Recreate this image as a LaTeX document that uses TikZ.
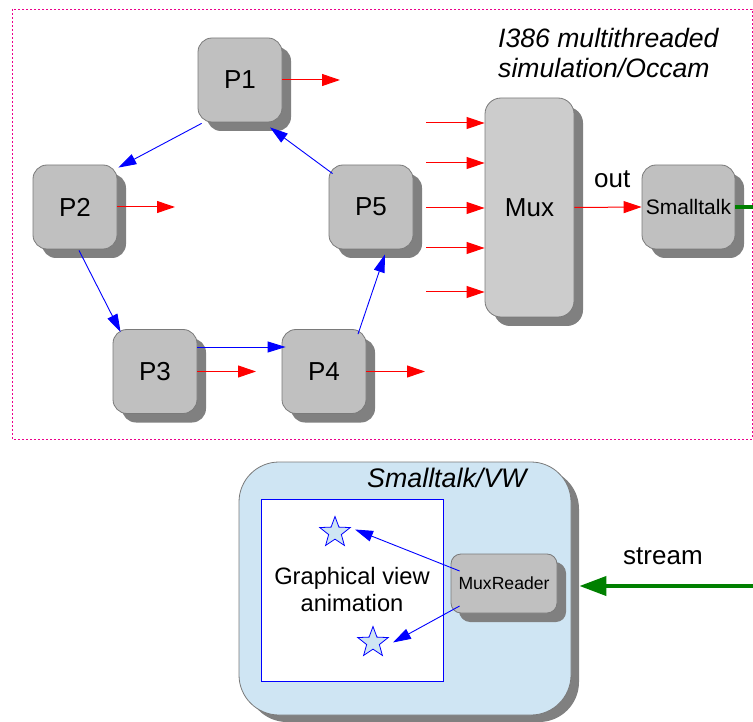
\documentclass[tikz,border=0pt]{standalone}
\usepackage{fontspec}
\setmainfont{Liberation Sans}
\usetikzlibrary{arrows.meta,shadows,shapes.geometric,calc}
\definecolor{boxgray}{HTML}{C0C0C0}
\definecolor{muxgray}{HTML}{CCCCCC}
\definecolor{shadowgray}{HTML}{808080}
\definecolor{bordergray}{HTML}{7A7A7A}
\definecolor{lightblue}{HTML}{CFE5F3}
\definecolor{darkgreen}{HTML}{008000}
\tikzset{
  pbox/.style={rectangle, rounded corners=14pt, draw=bordergray, line width=0.8pt,
    fill=boxgray, minimum width=84pt, minimum height=84pt, inner sep=0pt,
    font=\fontsize{26}{30}\selectfont,
    drop shadow={shadow xshift=9pt,shadow yshift=-9pt,fill=shadowgray,opacity=1}},
  redarr/.style={draw=red, line width=1pt, -{Triangle[length=18pt,width=12pt]}},
  bluearr/.style={draw=blue, line width=0.9pt, -{Triangle[length=18pt,width=11pt]}},
  greenarr/.style={draw=darkgreen, line width=4pt, -{Triangle[length=27pt,width=19pt]}},
  lbl/.style={inner sep=0pt, font=\fontsize{26}{30}\selectfont},
  starnode/.style={star, star points=5, star point ratio=2.4, minimum size=32pt,
    inner sep=0pt, draw=blue, line width=0.8pt, fill=lightblue},
  frame/.style={draw=magenta, line width=0.9pt, dash pattern=on 2pt off 2pt}
}
\begin{document}
\begin{tikzpicture}[x=1pt,y=-1pt]
\useasboundingbox (0,0) rectangle (753,722);
\draw[frame] (12,9) rectangle (752,439);

% process nodes
\node[pbox] (P1) at (240,80) {P1};
\node[pbox] (P2) at (75,207) {P2};
\node[pbox] (P5) at (371,207) {P5};
\node[pbox] (P3) at (155,371.5) {P3};
\node[pbox] (P4) at (324,371.5) {P4};
\node[pbox, fill=muxgray, minimum width=89pt, minimum height=219pt, rounded corners=16pt] (mux) at (529.5,207.5) {Mux};
\node[pbox, minimum width=93pt, font=\fontsize{21}{24}\selectfont] (st) at (688.5,207) {Smalltalk};

% title
\node[lbl, anchor=base west, font=\fontsize{26.6}{30}\itshape] (t1) at (498,48) {I386 multithreaded};
\node[lbl, anchor=base west, font=\fontsize{26.6}{30}\itshape] (t2) at (498,78) {simulation/Occam};

% red outputs
\coordinate (r1) at (340,80);
\coordinate (r2) at (175,207);
\coordinate (r3) at (256,371.5);
\coordinate (r4) at (425,371.5);
\draw[redarr] (P1.east) -- (r1);
\draw[redarr] (P2.east) -- (r2);
\draw[redarr] (P3.east) -- (r3);
\draw[redarr] (P4.east) -- (r4);

% mux inputs
\foreach \i/\yy in {1/123,2/163,3/208,4/248,5/292}{
  \coordinate (m\i) at (426,\yy);
  \draw[redarr] (m\i) -- (mux.west |- m\i);
}
\draw[redarr] (mux.east) -- (st.west);
\node[lbl, anchor=base west] (out) at (594,188) {out};
\coordinate (gend) at (753,207);
\draw[draw=darkgreen, line width=4pt] (st.east) -- (gend);

% ring
\draw[bluearr] ($(P1.south west)+(4,1)$) -- ($(P2.north east)+(1,3)$);
\draw[bluearr] ($(P2.south)+(4,1)$) -- ($(P3.north west)+(8,3)$);
\draw[bluearr] ($(P3.east)+(0,-24.5)$) -- ($(P4.west)+(4,-24.5)$);
\draw[bluearr] ($(P4.north)+(34,5)$) -- ($(P5.south)+(14,5)$);
\draw[bluearr] ($(P5.north west)+(4,9)$) -- ($(P1.south)+(30,5)$);

% lower part
\node[rectangle, rounded corners=40pt, draw=bordergray, line width=0.8pt, fill=lightblue,
  minimum width=332pt, minimum height=253pt, inner sep=0pt,
  drop shadow={shadow xshift=8pt,shadow yshift=-7pt,fill=shadowgray,opacity=1}] (vw) at (405,588.5) {};
\node[lbl, anchor=base west, font=\fontsize{26.8}{30}\itshape] (vwl) at (367,487) {Smalltalk/VW};
\node[rectangle, draw=blue, line width=0.8pt, fill=white, minimum width=182pt, minimum height=182pt,
  inner sep=0pt, align=center, font=\fontsize{23.7}{27}\selectfont] (view) at (352,590) {Graphical view\\animation};
\node[starnode] (s1) at (335,532.5) {};
\node[starnode] (s2) at (373,642.5) {};
\node[pbox, minimum width=106pt, minimum height=59pt, rounded corners=10pt, font=\fontsize{17.6}{20}\selectfont,
  drop shadow={shadow xshift=8pt,shadow yshift=-8pt,fill=shadowgray,opacity=1}] (mr) at (504,583.5) {MuxReader};
\draw[bluearr] ($(mr.west)+(9,-12.5)$) -- ($(s1.center)+(20,-3)$);
\draw[bluearr] ($(mr.west)+(9,22.5)$) -- ($(s2.center)+(20,0)$);

\coordinate (gs) at (753,586);
\draw[greenarr] (gs) -- ($(vw.east)+(8,-2.5)$);
\node[lbl, anchor=base west] (stream) at (623,564) {stream};
\end{tikzpicture}
\end{document}
